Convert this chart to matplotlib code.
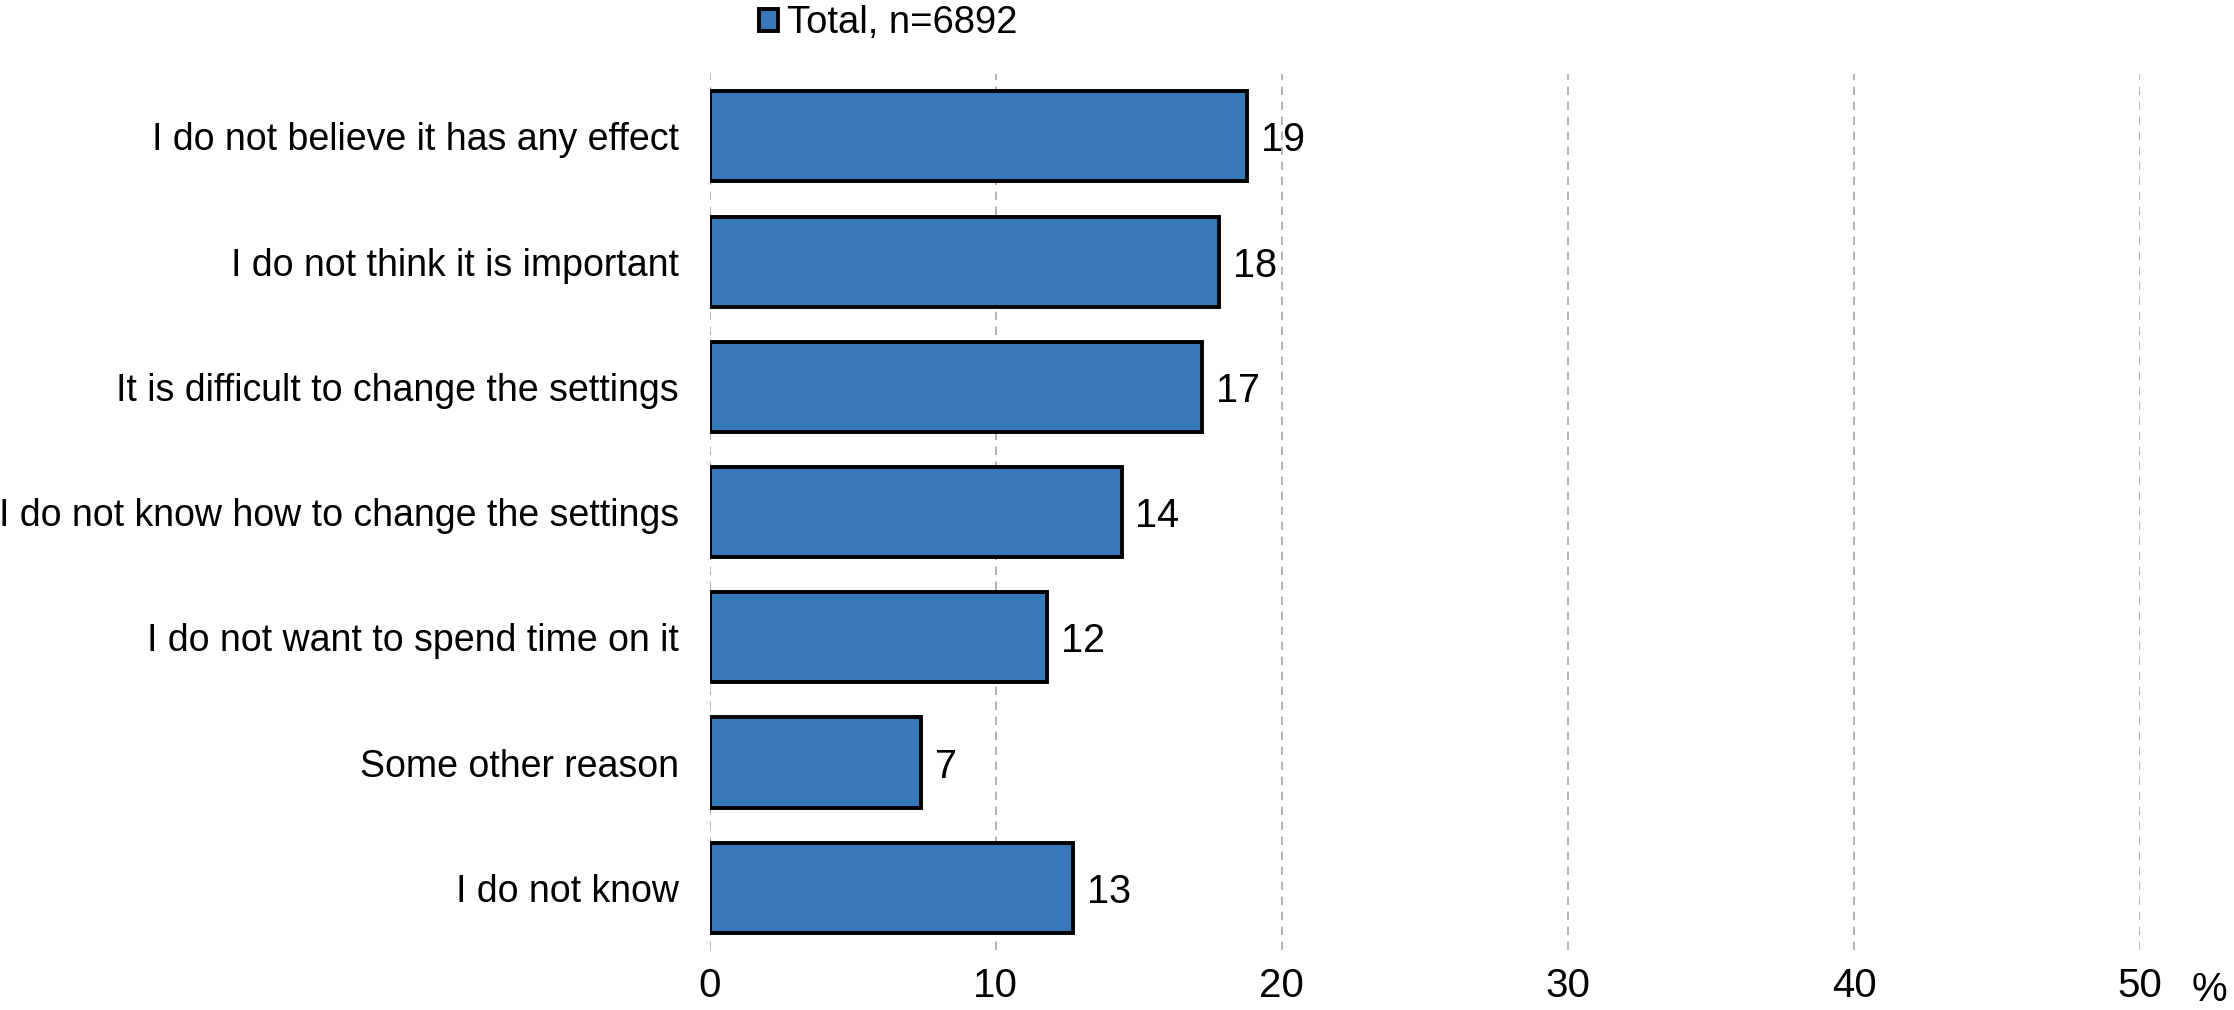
import matplotlib
matplotlib.use('Agg')
import matplotlib.pyplot as plt
from matplotlib.patches import Patch

plt.rcParams['font.family'] = ['Liberation Sans', 'DejaVu Sans']

# Data
categories = ['I do not believe it has any effect',
              'I do not think it is important',
              'It is difficult to change the settings',
              'I do not know how to change the settings',
              'I do not want to spend time on it',
              'Some other reason',
              'I do not know']
values = [18.8, 17.8, 17.2, 14.4, 11.8, 7.4, 12.7]
labels = ['19', '18', '17', '14', '12', '7', '13']
xticks = [0, 10, 20, 30, 40, 50]
series_name = 'Total, n=6892'

bar_color = '#3778B8'

fig = plt.figure(figsize=(22.34, 10.1), dpi=100)
ax = fig.add_axes([0.3176, 0.059, 0.958 - 0.3176, 0.868])

ypos = list(range(len(categories)))
bars = ax.barh(ypos, values, height=0.72, color=bar_color,
               edgecolor='black', linewidth=2.8, zorder=3)

for b, lab in zip(bars, labels):
    ax.annotate(lab, (b.get_width(), b.get_y() + b.get_height() / 2),
                xytext=(10, 0), textcoords='offset points',
                ha='left', va='center_baseline', fontsize=28.5)

ax.set_yticks(ypos)
ax.set_yticklabels(categories, fontsize=27)
ax.set_ylim(len(categories) - 0.5, -0.5)
ax.set_xlim(0, 50)
ax.set_xticks(xticks)
ax.set_xticklabels([str(t) for t in xticks], fontsize=29)
ax.tick_params(axis='y', length=0, pad=22)
ax.tick_params(axis='x', length=0, pad=12)

for s in ax.spines.values():
    s.set_visible(False)
ax.grid(axis='x', color='#A6A6A6', linestyle=(0, (5, 4)), linewidth=1.2, zorder=0)
ax.set_axisbelow(True)

fig.text(0.997, 0.024, '%', fontsize=29, ha='right', va='center_baseline')

handle = Patch(facecolor=bar_color, edgecolor='black', linewidth=2.8)
fig.legend([handle], [series_name], loc='center', bbox_to_anchor=(0.3975, 0.977),
           frameon=False, fontsize=27.5, handlelength=0.5, handleheight=0.5,
           handletextpad=0.25, borderaxespad=0, borderpad=0)

fig.savefig('out.png', dpi=100)
